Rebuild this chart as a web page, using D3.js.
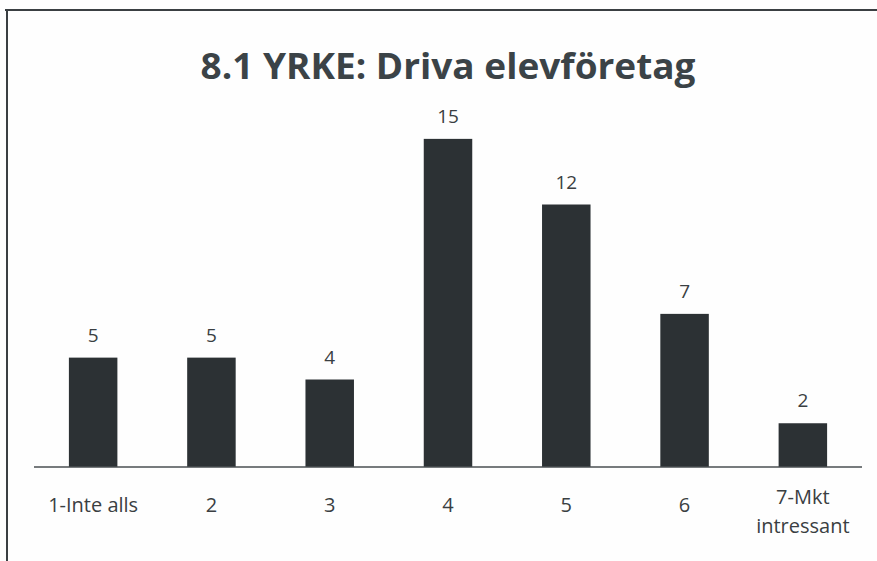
<!DOCTYPE html>
<html><head><meta charset="utf-8">
<script src="https://cdn.jsdelivr.net/npm/d3@7"></script>
<style>body{margin:0;background:#fff}svg{display:block}</style>
</head><body>
<script>
const categories = ["1-Inte alls", "2", "3", "4", "5", "6", "7-Mkt intressant"];
const values = [5, 5, 4, 15, 12, 7, 2];
const title = "8.1 YRKE: Driva elevföretag";

const W = 877, H = 561;
const svg = d3.select("body").append("svg").attr("width", W).attr("height", H);
svg.append("rect").attr("width", W).attr("height", H).attr("fill", "#fefefe");

// frame
svg.append("line").attr("x1", 5).attr("x2", W).attr("y1", 10).attr("y2", 10).attr("stroke", "#3a3f42").attr("stroke-width", 2);
svg.append("line").attr("x1", 7).attr("x2", 7).attr("y1", 10).attr("y2", H).attr("stroke", "#3a3f42").attr("stroke-width", 2);

const x = d3.scaleBand().domain(categories).range([34, 862]).paddingInner(0.59).paddingOuter(0.295);
const y = d3.scaleLinear().domain([0, 16]).range([467, 117]);

svg.append("text").attr("x", 448).attr("y", 79).attr("text-anchor", "middle")
  .attr("font-family", "Open Sans, sans-serif").attr("font-weight", 700).attr("font-size", 36)
  .attr("textLength", 495).attr("lengthAdjust", "spacingAndGlyphs")
  .attr("fill", "#3b4347").text(title);

svg.selectAll("rect.bar").data(values).join("rect").attr("class", "bar")
  .attr("x", (d, i) => x(categories[i])).attr("width", x.bandwidth())
  .attr("y", d => y(d)).attr("height", d => y(0) - y(d))
  .attr("fill", "#2c3134");

svg.append("line").attr("x1", 34).attr("x2", 862).attr("y1", y(0)).attr("y2", y(0))
  .attr("stroke", "#4a4f52").attr("stroke-width", 1.5);

svg.selectAll("text.val").data(values).join("text").attr("class", "val")
  .attr("x", (d, i) => x(categories[i]) + x.bandwidth() / 2).attr("y", d => y(d) - 16)
  .attr("text-anchor", "middle").attr("font-family", "Open Sans, sans-serif").attr("font-size", 19)
  .attr("fill", "#3a3f42").text(d => d);

const lab = svg.selectAll("text.cat").data(categories).join("text").attr("class", "cat")
  .attr("x", d => x(d) + x.bandwidth() / 2).attr("y", 512)
  .attr("text-anchor", "middle").attr("font-family", "Open Sans, sans-serif").attr("font-size", 20)
  .attr("fill", "#3a3f42");
lab.each(function(d) {
  const t = d3.select(this);
  if (d === "7-Mkt intressant") {
    t.attr("y", 504);
    t.append("tspan").attr("x", x(d) + x.bandwidth() / 2).text("7-Mkt");
    t.append("tspan").attr("x", x(d) + x.bandwidth() / 2).attr("dy", 29).text("intressant");
  } else t.text(d);
});
</script>
</body></html>
